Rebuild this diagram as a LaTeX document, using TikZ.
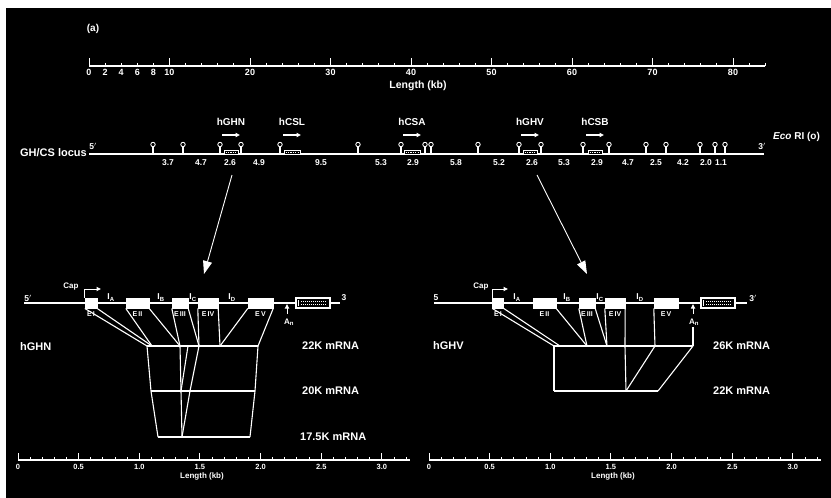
\documentclass[tikz,border=0pt]{standalone}
\usepackage{fontspec}
\setmainfont{Liberation Sans}
\usetikzlibrary{arrows.meta,positioning}

\newcommand{\fsz}[1]{\fontsize{#1pt}{#1pt}\selectfont\bfseries}

\begin{document}
\begin{tikzpicture}[x=1pt, y=-1pt,
    every node/.style={text=white, inner sep=0pt},
    dna/.style={draw=white, line width=1.5pt},
    link/.style={draw=white, line width=1.1pt},
    tick/.style={draw=white, line width=1pt},
    site/.style={draw=white, fill=black, circle, line width=0.9pt, minimum size=4.4pt},
    genebox/.style={draw=white, fill=black, line width=0.9pt, minimum height=4.5pt},
    exon/.style={draw=white, fill=white, minimum height=10.5pt},
    tail/.style={draw=white, fill=black, line width=1.3pt, minimum height=10pt, minimum width=34pt},
    bigarrow/.style={draw=white, line width=0.9pt, -{Triangle[length=13pt, width=9pt]}},
    smallarrow/.style={draw=white, line width=1.2pt, -{Triangle[length=4.5pt, width=4.2pt]}},
    lab/.style={font=\fsz{11}}]

    \useasboundingbox (0,0) rectangle (831,498);
    \fill[black] (6,8) rectangle (831,498);

    \node[font=\fsz{10}] (panel) at (93,29) {(a)};

    \begin{scope}[shift={(89,66)}]
        \draw[dna] (0,0) -- (676,0);
        \foreach \k in {0,2,...,84}
            \draw[tick] ({\k*8.05},0) -- ({\k*8.05},-3.5);
        \foreach \k in {0,10,...,80}
            \draw[tick] ({\k*8.05},0) -- ({\k*8.05},-8);
        \foreach \k in {0,2,4,6,8,10,20,30,40,50,60,70,80}
            \node[font=\fsz{9}, anchor=north] at ({\k*8.05},3) {\k};
        \node[font=\fsz{10.5}] (kbtop) at (329,20) {Length (kb)};
    \end{scope}

    \coordinate (loc5) at (89,154);
    \coordinate (loc3) at (764,154);
    \draw[dna] (loc5) -- (loc3);
    \node[lab, anchor=east] (locus) at (87,153) {GH/CS locus};
    \node[font=\fsz{8.5}] at (93,146) {5$'$};
    \node[font=\fsz{8.5}] at (762,146) {3$'$};
    \node[font=\fsz{10}, anchor=west] (eco) at (773,137) {\textit{Eco} RI (o)};

    \foreach \x in {153,183,220,241,280,358,401,425,431,478,519,541,583,609,646,666,700,715,725} {
        \draw[link] (\x,154) -- (\x,147);
        \node[site] at (\x,144.5) {};
    }

    \foreach \x/\w/\g in {231/14/hGHN, 292/16/hCSL, 412/16/hCSA, 530/14/hGHV, 595/14/hCSB} {
        \node[genebox, minimum width=\w pt] (b\g) at (\x,152.5) {};
        \draw[white, line width=1.2pt, dash pattern=on 1.2pt off 1.2pt] ([xshift=2pt]b\g.west) -- ([xshift=-2pt]b\g.east);
        \node[font=\fsz{10}] (n\g) at (\x,122) {\g};
        \draw[smallarrow] (\x-9,135) -- (\x+9,135);
    }

    \foreach \x/\f [count=\i] in {168/3.7, 201/4.7, 230/2.6, 259/4.9, 321/9.5, 381/5.3, 413/2.9, 456/5.8,
                                  499/5.2, 532/2.6, 564/5.3, 597/2.9, 628/4.7, 656/2.5, 683/4.2, 706/2.0, 721/1.1}
        \node[font=\fsz{8.5}] (f\i) at (\x,162.5) {\f};

    \coordinate (nTop) at (232,175);
    \coordinate (nTip) at (204,274);
    \coordinate (vTop) at (537,175);
    \coordinate (vTip) at (587,274);
    \draw[bigarrow] (nTop) -- (nTip);
    \draw[bigarrow] (vTop) -- (vTip);

    % hGHN gene
    \coordinate (l5) at (24,303);
    \coordinate (l3) at (340,303);
    \draw[dna] (l5) -- (l3);
    \node[font=\fsz{8.5}] at (28,298) {5$'$};
    \node[font=\fsz{8.5}] at (344,298) {3};
    \foreach \n/\x/\w/\r in {1/91/12/I, 2/137.5/23/II, 3/180/16/III, 4/208/20/IV, 5/260.5/25/V} {
        \node[exon, minimum width=\w pt] (lE\n) at (\x,303) {};
        \node[font=\fsz{7}, anchor=north] at (\x,311.5) {E\,\r};
    }
    \node[tail] (lT) at (313,303) {};
    \draw[white, line width=1.3pt] ([xshift=3pt,yshift=-3pt]lT.west) -- ([xshift=3pt,yshift=3pt]lT.west);
    \foreach \dy in {-1.8,1.8}
        \draw[white, line width=1.3pt, dash pattern=on 1pt off 1pt] ([xshift=6pt,yshift=\dy pt]lT.west) -- ([xshift=-4pt,yshift=\dy pt]lT.east);
    \foreach \x/\s in {111/A, 161/B, 193/C, 232/D}
        \node[font=\fsz{8.5}, anchor=south] at (\x,301.5) {I\textsubscript{\s}};
    \node[font=\fsz{8}] (lcap) at (71,287) {Cap};
    \coordinate (lcapEnd) at (101,289);
    \draw[smallarrow, line width=1pt] (lE1.north west) |- (lcapEnd);
    \coordinate (lpolyA) at (287,304);
    \coordinate (lpolyB) at (287,314);
    \draw[smallarrow, line width=1pt] (lpolyB) -- (lpolyA);
    \node[font=\fsz{8}, anchor=west] (lAn) at (284,322) {A\textsubscript{n}};
    \node[lab, anchor=west] (hGHN) at (20,347) {hGHN};

    \coordinate (k22L) at (147,346);
    \coordinate (k22a) at (152,346);
    \coordinate (k22b) at (180,346);
    \coordinate (k22s) at (188,346);
    \coordinate (k22c) at (199,346);
    \coordinate (k22d) at (220,346);
    \coordinate (k22R) at (258,346);
    \coordinate (k20L) at (151,391);
    \coordinate (k20b) at (181,391);
    \coordinate (k20c) at (190,391);
    \coordinate (k20R) at (255,391);
    \coordinate (k17L) at (158,437);
    \coordinate (k17b) at (182,437);
    \coordinate (k17R) at (250,437);
    \draw[dna] (k22L) -- (k22R);
    \draw[dna] (k20L) -- (k20R);
    \draw[dna] (k17L) -- (k17R);
    \draw[link] (k22L) -- (k20L) -- (k17L);
    \draw[link] (k22R) -- (k20R) -- (k17R);
    \draw[link] (k22b) -- (k20b) -- (k17b);
    \draw[link] (k22s) -- (k20b);
    \draw[link] (k22c) -- (k20c) -- (k17b);
    \draw[link] (lE1.south west) -- (k22L);
    \draw[link] (lE1.south east) -- (k22a);
    \draw[link] (lE2.south west) -- (k22a);
    \draw[link] (lE2.south east) -- (k22b);
    \draw[link] (lE3.south west) -- (k22b);
    \draw[link] (lE3.south east) -- (k22c);
    \draw[link] (lE4.south west) -- (k22c);
    \draw[link] (lE4.south east) -- (k22d);
    \draw[link] (lE5.south west) -- (k22d);
    \draw[link] (lE5.south east) -- (k22R);
    \node[lab, anchor=west] (m22) at (302,346) {22K mRNA};
    \node[lab, anchor=west] (m20) at (302,391) {20K mRNA};
    \node[lab, anchor=west] (m17) at (300,437) {17.5K mRNA};

    % hGHV gene
    \coordinate (r5) at (434,303);
    \coordinate (r3) at (747,303);
    \draw[dna] (r5) -- (r3);
    \node[font=\fsz{8.5}] at (436,298) {5};
    \node[font=\fsz{8.5}] at (753,298) {3$'$};
    \foreach \n/\x/\w/\r in {1/498/11/I, 2/544.5/23/II, 3/587/16/III, 4/615/20/IV, 5/666/24/V} {
        \node[exon, minimum width=\w pt] (rE\n) at (\x,303) {};
        \node[font=\fsz{7}, anchor=north] at (\x,311.5) {E\,\r};
    }
    \node[tail] (rT) at (718,303) {};
    \draw[white, line width=1.3pt] ([xshift=3pt,yshift=-3pt]rT.west) -- ([xshift=3pt,yshift=3pt]rT.west);
    \foreach \dy in {-1.8,1.8}
        \draw[white, line width=1.3pt, dash pattern=on 1pt off 1pt] ([xshift=6pt,yshift=\dy pt]rT.west) -- ([xshift=-4pt,yshift=\dy pt]rT.east);
    \foreach \x/\s in {517/A, 567/B, 600/C, 640/D}
        \node[font=\fsz{8.5}, anchor=south] at (\x,301.5) {I\textsubscript{\s}};
    \node[font=\fsz{8}] (rcap) at (481,287) {Cap};
    \coordinate (rcapEnd) at (508,289);
    \draw[smallarrow, line width=1pt] (rE1.north west) |- (rcapEnd);
    \coordinate (rpolyA) at (693,304);
    \coordinate (rpolyB) at (693,314);
    \draw[smallarrow, line width=1pt] (rpolyB) -- (rpolyA);
    \node[font=\fsz{8}, anchor=west] (rAn) at (689,322) {A\textsubscript{n}};
    \coordinate (rpolyC) at (693,327);
    \node[lab, anchor=west] (hGHV) at (433,346) {hGHV};

    \coordinate (v26L) at (554,346);
    \coordinate (v26a) at (560,346);
    \coordinate (v26b) at (587,346);
    \coordinate (v26c) at (607,346);
    \coordinate (v26d) at (625,346);
    \coordinate (v26e) at (655,346);
    \coordinate (v26R) at (693,346);
    \coordinate (v22L) at (554,391);
    \coordinate (v22d) at (626,391);
    \coordinate (v22R) at (658,391);
    \draw[dna] (v26L) -- (v26R);
    \draw[dna] (v22L) -- (v22R);
    \draw[link] (v26L) -- (v22L);
    \draw[link] (v26d) -- (v22d);
    \draw[link] (v26e) -- (v22d);
    \draw[link] (v26R) -- (v22R);
    \draw[link] (rE1.south west) -- (v26L);
    \draw[link] (rE1.south east) -- (v26a);
    \draw[link] (rE2.south east) -- (v26b);
    \draw[link] (rE3.south west) -- (v26b);
    \draw[link] (rE3.south east) -- (v26c);
    \draw[link] (rE4.south west) -- (v26c);
    \draw[link] (rE4.south east) -- (v26d);
    \draw[link] (rE5.south west) -- (v26e);
    \draw[link] (rpolyC) -- (v26R);
    \node[lab, anchor=west] (m26) at (713,346) {26K mRNA};
    \node[lab, anchor=west] (m22v) at (713,391) {22K mRNA};

    % kb scales
    \foreach \sx/\sc in {18/l, 429/r} {
        \begin{scope}[shift={(\sx,460)}]
            \draw[dna] (0,0) -- (392,0);
            \foreach \i in {0,...,32}
                \draw[tick] ({\i*12.13},0) -- ({\i*12.13},-3.5);
            \foreach \i/\t in {0/0, 5/0.5, 10/1.0, 15/1.5, 20/2.0, 25/2.5, 30/3.0} {
                \draw[tick] ({\i*12.13},0) -- ({\i*12.13},-7);
                \node[font=\fsz{7.5}, anchor=north] at ({\i*12.13},4) {\t};
            }
            \node[font=\fsz{8}] (kb\sc) at (184,16) {Length (kb)};
        \end{scope}
    }
\end{tikzpicture}
\end{document}
